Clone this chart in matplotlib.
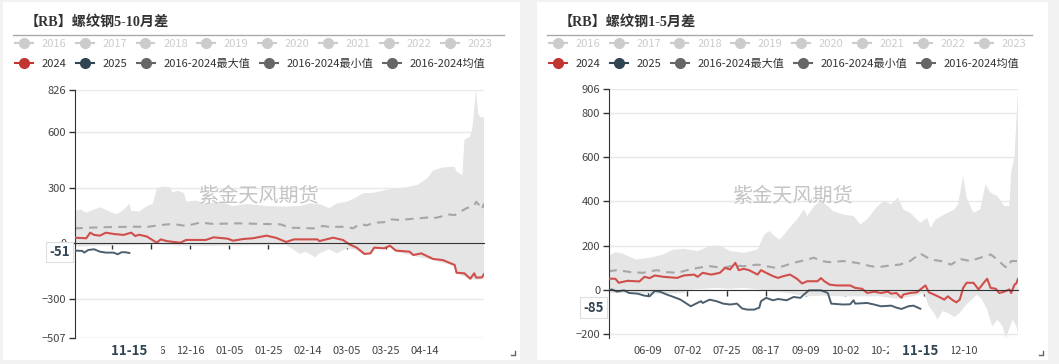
import numpy as np
import pandas as pd
import matplotlib
matplotlib.use('Agg')
from matplotlib import pyplot as plt
from matplotlib.lines import Line2D
from matplotlib.patches import Rectangle

plt.rcParams['font.family'] = ['Noto Sans CJK SC', 'DejaVu Sans']

# ---------------- data: left panel (RB 5-10 spread), day 0 = 10-18 ----------------
left_start = '2023-10-18'
left_span = 209
left_yticks = [-507, -300, 0, 300, 600, 826]

left_2024_day = [0, 6, 8, 10, 13, 16, 20, 25, 29, 31, 33, 37, 42, 44, 47, 54, 57, 67, 71, 78,
                 81, 86, 91, 98, 103, 108, 112, 124, 125, 132, 137, 140, 144, 148, 151, 153, 158,
                 161, 164, 171, 173, 177, 183, 188, 194, 195, 199, 202, 204, 205, 208, 209]
left_2024_val = [31, 28, 58, 46, 42, 58, 51, 46, 58, 40, 47, 37, 4, 22, 13, 4, 19, 19, 33, 26,
                 15, 24, 28, 42, 30, 8, 22, 22, 13, 31, 19, -3, -22, -56, -53, -22, -26,
                 -12, -38, -44, -62, -53, -83, -89, -115, -157, -160, -189, -160, -183, -182, -164]

left_2025_day = [0, 4, 5, 7, 10, 13, 16, 20, 22, 24, 26, 28]
left_2025_val = [-38, -40, -49, -35, -31, -44, -49, -49, -58, -47, -47, -51]

left_mean_day = [0, 13, 30, 37, 44, 50, 57, 64, 71, 84, 95, 105, 110, 122, 127, 130, 139, 142,
                 146, 149, 153, 158, 161, 166, 173, 180, 183, 187, 190, 194, 197, 200, 204, 205,
                 207, 208, 209]
left_mean_val = [81, 87, 90, 89, 99, 105, 94, 112, 105, 108, 105, 103, 85, 81, 94, 89, 90, 81,
                 105, 97, 112, 114, 130, 126, 133, 139, 135, 144, 157, 152, 171, 189, 203, 224,
                 201, 183, 215]

left_max_day = [0, 3, 6, 13, 16, 21, 23, 26, 28, 29, 33, 37, 40, 42, 45, 49, 50, 53, 56, 57,
                62, 67, 74, 81, 88, 98, 108, 115, 120, 125, 130, 134, 139, 144, 147, 153, 159,
                164, 169, 175, 180, 183, 188, 194, 195, 198, 199, 202, 203, 205, 206, 207, 209]
left_max_val = [171, 183, 165, 194, 180, 158, 165, 189, 215, 176, 171, 201, 212, 296, 305, 301,
                273, 284, 269, 225, 230, 215, 224, 201, 212, 201, 198, 201, 215, 212, 189, 215,
                224, 248, 269, 273, 287, 296, 301, 314, 350, 391, 408, 412, 385, 367, 555, 576,
                612, 826, 698, 677, 677]

left_min_day = [0, 13, 30, 42, 54, 71, 91, 108, 112, 115, 118, 123, 125, 130, 134, 139, 144,
                148, 153, 161, 164, 173, 183, 194, 195, 202, 207, 209]
left_min_val = [-17, -12, -8, -3, -12, -13, -10, -8, -35, -56, -44, -75, -53, -31, -53, -26, -35,
                -62, -31, -17, -44, -67, -89, -121, -160, -192, -196, -178]

# ---------------- data: right panel (RB 1-5 spread), day 0 = 05-17 ----------------
right_start = '2024-05-17'
right_span = 239
right_yticks = [-200, 0, 200, 400, 600, 800, 906]
right_ymin = -217

right_2024_day = [0, 4, 6, 11, 18, 21, 24, 27, 32, 40, 44, 50, 52, 55, 60, 65, 68, 71, 74, 76,
                  79, 82, 87, 89, 92, 96, 99, 102, 106, 110, 113, 116, 122, 124, 126, 129, 133,
                  141, 144, 148, 151, 155, 159, 163, 165, 168, 171, 172, 176, 180, 182, 185, 187,
                  190, 193, 196, 198, 201, 203, 205, 207, 209, 213, 216, 219, 221, 223, 226, 228,
                  231, 234, 235, 237, 238, 239]
right_2024_val = [51, 50, 32, 41, 38, 59, 53, 65, 59, 54, 65, 69, 59, 77, 69, 77, 99, 92, 122, 89,
                  95, 89, 69, 89, 77, 62, 54, 62, 69, 50, 29, 39, 39, 53, 39, 24, 20,
                  20, 9, 5, -14, -8, -14, -8, -17, -14, -36, -21, -14, -11, 2, 20, -11,
                  -21, -32, -44, -29, -47, -56, -44, 9, 32, 32, 2, 32, 50, 9, 5, -14,
                  -8, 2, -14, 24, 29, 50]

right_2025_day = [0, 2, 5, 9, 12, 17, 21, 24, 27, 30, 34, 38, 42, 45, 48, 51, 54, 55, 59, 63,
                  67, 71, 75, 78, 81, 85, 88, 89, 92, 96, 99, 104, 108, 112, 114, 117, 124, 128,
                  130, 137, 141, 143, 144, 151, 155, 159, 165, 168, 171, 175, 178, 182]
right_2025_val = [-2, 2, -8, -2, -14, -17, -26, -29, -5, -8, -21, -32, -44, -59, -74, -62, -51,
                  -59, -44, -51, -62, -66, -62, -84, -89, -89, -80, -51, -36, -47, -41, -47, -32,
                  -36, -21, -2, -2, -14, -62, -66, -65, -47, -62, -59, -66, -74, -71, -80, -86,
                  -74, -71, -85]

right_mean_day = [0, 5, 13, 20, 28, 34, 40, 46, 52, 59, 67, 73, 79, 87, 92, 98, 102, 108, 114,
                  120, 124, 129, 137, 145, 153, 157, 165, 170, 176, 182, 188, 194, 200, 205, 211,
                  217, 223, 227, 231, 233, 235, 239]
right_mean_val = [84, 89, 80, 77, 89, 80, 77, 89, 99, 107, 99, 110, 107, 114, 107, 99, 107, 122,
                  133, 145, 130, 125, 130, 122, 107, 102, 111, 114, 130, 164, 137, 130, 114, 140,
                  130, 145, 160, 137, 107, 99, 130, 130]

right_max_day = [0, 4, 8, 16, 24, 32, 38, 44, 52, 59, 65, 71, 79, 87, 91, 94, 97, 100, 105, 110,
                 114, 116, 120, 124, 128, 131, 137, 143, 147, 151, 157, 161, 165, 169, 172, 176,
                 182, 186, 188, 191, 196, 202, 204, 207, 209, 213, 217, 220, 223, 227, 231, 234,
                 235, 237, 239]
right_max_val = [152, 170, 164, 137, 145, 160, 182, 185, 175, 197, 200, 175, 167, 182, 250, 265,
                 242, 227, 273, 318, 363, 333, 378, 401, 378, 355, 340, 333, 295, 318, 378, 401,
                 386, 416, 363, 348, 303, 325, 280, 318, 340, 363, 386, 514, 416, 348, 363, 476,
                 438, 423, 378, 378, 529, 604, 906]

right_min_day = [0, 13, 32, 44, 48, 55, 63, 71, 79, 87, 94, 104, 116, 124, 135, 147, 159, 168,
                 178, 184, 187, 190, 192, 195, 198, 202, 205, 208, 211, 215, 218, 221, 224, 227,
                 230, 232, 234, 236, 238, 239]
right_min_val = [-14, -14, -17, -14, 2, 5, 9, 5, 9, 2, -6, -14, -29, -26, -29, -29, -29, -40,
                 -29, -14, -74, -104, -134, -96, -104, -122, -104, -74, -51, -21, -44, -89, -164,
                 -134, -164, -217, -172, -134, -164, -194]

legend_row1 = ['2016', '2017', '2018', '2019', '2020', '2021', '2022', '2023']
legend_row2 = ['2024', '2025', '2016-2024最大值', '2016-2024最小值', '2016-2024均值']

C_2024, C_2025, C_STAT, C_OFF = '#c23531', '#2f4554', '#666666', '#cccccc'
LINE_2024, LINE_2025 = '#d04e4b', '#4b5f6e'

W, H = 1059, 364
fig = plt.figure(figsize=(W / 100, H / 100), dpi=100, facecolor='#f2f2f2')


def fx(px):
    return px / W


def fy(py):
    return 1 - py / H


def day_label(start, d):
    return (pd.Timestamp(start) + pd.Timedelta(days=int(d))).strftime('%m-%d')


def panel(x0, x1, title, ax_box, start, span, yticks, ymin, ymax, xticks,
          s2024, s2025, smean, smax, smin):
    # white card + title
    fig.add_artist(Rectangle((fx(x0), fy(360)), fx(x1) - fx(x0), fy(2) - fy(360),
                             transform=fig.transFigure, fc='white', ec='none', zorder=-5))
    fig.text(fx(x0 + 22), fy(22), title, fontsize=10.2, fontweight='bold', color='#333333',
             va='center', ha='left', family=['Liberation Serif', 'Noto Sans CJK SC'])
    fig.add_artist(Line2D([fx(x0 + 10), fx(x1 - 16)], [fy(35), fy(35)],
                          transform=fig.transFigure, color='#aaaaaa', lw=1))
    fig.add_artist(Line2D([fx(x1 - 9), fx(x1 - 5), fx(x1 - 5)], [fy(355), fy(355), fy(351)],
                          transform=fig.transFigure, color='#666666', lw=1))

    # legends
    h1 = [Line2D([], [], color=C_OFF, marker='o', markersize=7, lw=1.5) for _ in legend_row1]
    fig.legend(h1, legend_row1, loc='center left', bbox_to_anchor=(fx(x0 + 12), fy(44)),
               ncol=len(h1), frameon=False, fontsize=8, handlelength=1.6, handletextpad=0.8,
               columnspacing=0.85, borderpad=0, borderaxespad=0, labelcolor=C_OFF)
    h2 = [Line2D([], [], color=c, marker='o', markersize=7, lw=1.5)
          for c in [C_2024, C_2025, C_STAT, C_STAT, C_STAT]]
    fig.legend(h2, legend_row2, loc='center left', bbox_to_anchor=(fx(x0 + 12), fy(64)),
               ncol=len(h2), frameon=False, fontsize=8, handlelength=1.6, handletextpad=0.8,
               columnspacing=0.85, borderpad=0, borderaxespad=0, labelcolor='#333333')

    ax = fig.add_axes([fx(ax_box[0]), fy(ax_box[3]), fx(ax_box[2]) - fx(ax_box[0]),
                       fy(ax_box[1]) - fy(ax_box[3])])
    ax.patch.set_visible(False)
    ax.set_xlim(0, span)
    ax.set_ylim(ymin, ymax)

    # band between min and max
    band_x = np.concatenate([smax[0], smin[0][::-1]])
    band_y = np.concatenate([smax[1], smin[1][::-1]])
    ax.fill(band_x, band_y, color='#e5e5e5', lw=0, zorder=1)
    ax.text(0.45, 0.57, '紫金天风期货', transform=ax.transAxes, fontsize=14.5,
            color='#c4c4c4', ha='center', va='center', zorder=1.5)
    ax.plot(smean[0], smean[1], color='#a6a6a6', lw=1.5, ls=(0, (4, 3)), zorder=2)
    ax.plot(s2024[0], s2024[1], color=LINE_2024, lw=1.5, zorder=3)
    ax.plot(s2025[0], s2025[1], color=LINE_2025, lw=1.4, zorder=3)

    # axes styling
    ax.set_yticks(yticks)
    ax.yaxis.grid(True, color='#e8e8e8', lw=1)
    ax.axhline(ymin, color='#e8e8e8', lw=1, zorder=0)
    ax.set_axisbelow(True)
    ax.tick_params(axis='y', direction='out', length=4, width=1, color='#333333',
                   labelsize=8, labelcolor='#444444', pad=2)
    for s in ['top', 'right']:
        ax.spines[s].set_visible(False)
    ax.spines['left'].set_color('#333333')
    ax.spines['bottom'].set_position(('data', 0))
    ax.spines['bottom'].set_color('#333333')
    ax.spines['bottom'].set_zorder(3.5)
    ax.set_xticks(xticks)
    ax.tick_params(axis='x', direction='out', length=4, width=1, color='#333333',
                   labelbottom=False)

    # date labels; the ones fully under the highlighted date are not shown
    last_day, last_val = s2025[0][-1], s2025[1][-1]
    px_per_day = (ax_box[2] - ax_box[0]) / span
    labels = ['' if abs(d - last_day) * px_per_day < 19 else day_label(start, d)
              for d in xticks]
    sec = ax.secondary_xaxis('bottom')
    sec.set_xticks(xticks, labels=labels)
    sec.tick_params(length=0, pad=6, labelsize=8, labelcolor='#444444')
    sec.spines['bottom'].set_visible(False)

    # highlighted current value / date
    ax.annotate(str(last_val), xy=(0, last_val), xycoords=ax.get_yaxis_transform(),
                xytext=(-5, 1), textcoords='offset pixels', ha='right', va='center',
                fontsize=9.5, fontweight='bold', color=C_2025, zorder=6,
                annotation_clip=False,
                bbox=dict(boxstyle='square,pad=0.25', fc='white', ec='#dddddd', lw=0.8))
    ax.annotate('    ' + day_label(start, last_day) + '    ', xy=(last_day, 0),
                xycoords=ax.get_xaxis_transform(), xytext=(0, -13), textcoords='offset pixels',
                ha='center', va='center', fontsize=9.5, fontweight='bold', color=C_2025,
                zorder=6, annotation_clip=False,
                bbox=dict(boxstyle='square,pad=0.1', fc='white', ec='none'))
    return ax


panel(3, 520, '【RB】螺纹钢5-10月差', (74.5, 89.5, 484, 338), left_start, left_span,
      left_yticks, left_yticks[0], left_yticks[-1], list(range(19, 180, 20)),
      (left_2024_day, left_2024_val), (left_2025_day, left_2025_val),
      (left_mean_day, left_mean_val), (left_max_day, left_max_val),
      (left_min_day, left_min_val))

panel(537, 1048, '【RB】螺纹钢1-5月差', (608.5, 89, 1018, 338), right_start, right_span,
      right_yticks, right_ymin, right_yticks[-1], list(range(23, 208, 23)),
      (right_2024_day, right_2024_val), (right_2025_day, right_2025_val),
      (right_mean_day, right_mean_val), (right_max_day, right_max_val),
      (right_min_day, right_min_val))

fig.savefig('out.png', dpi=100, facecolor=fig.get_facecolor())
